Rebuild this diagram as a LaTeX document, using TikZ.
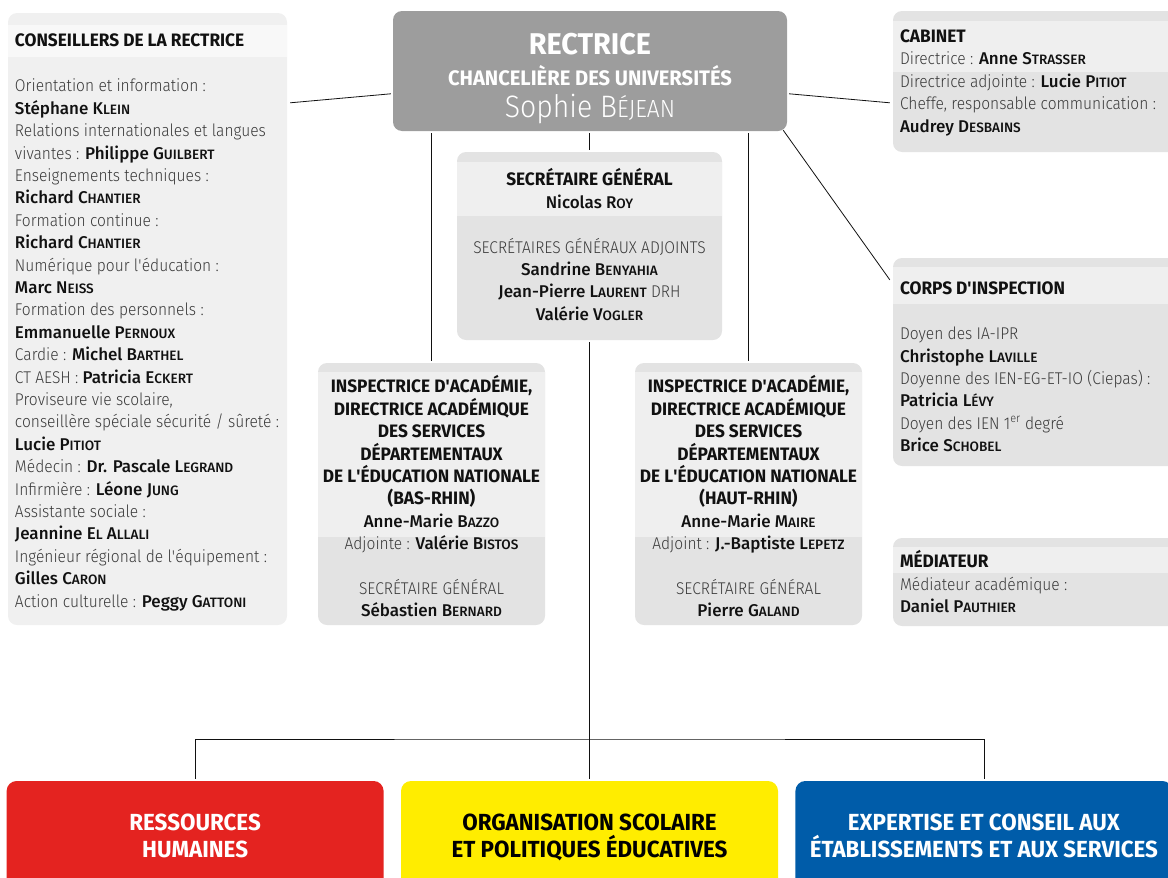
\documentclass[tikz,border=0pt]{standalone}
\usepackage{xcolor}
\usepackage{tikz}
\usepackage{fontspec}
\usetikzlibrary{positioning}
\setmainfont{Fira Sans Light}[FakeStretch=0.915]
\newfontfamily\fmed{Fira Sans Medium}
\newfontfamily\fbold{Fira Sans Bold}[FakeStretch=0.96]
\definecolor{fondclair}{HTML}{F0F0F0}
\definecolor{bandeclair}{HTML}{F8F8F8}
\definecolor{fondgris}{HTML}{E3E3E3}
\definecolor{bandegris}{HTML}{EFEFEF}
\definecolor{gristete}{HTML}{9D9D9D}
\definecolor{gristexte}{HTML}{3A3A3A}
\definecolor{noir}{HTML}{111111}
\definecolor{rouge}{HTML}{E42320}
\definecolor{jaune}{HTML}{FFED00}
\definecolor{bleu}{HTML}{005CA9}
\makeatletter
\newcommand\pc[1]{{\fontsize{\fpeval{0.8*\f@size}}{\f@baselineskip}\selectfont #1}}
\makeatother
\newcommand\nm[1]{{\fmed\color{noir}#1}}
\newcommand\hd[1]{{\fbold\fontsize{18}{22.4}\selectfont\color{noir}#1}}
\newcommand\ap{\textquotesingle}

\begin{document}
\begin{tikzpicture}[
    x=1pt, y=-1pt,
    node distance=16pt and 17pt,
    panel/.style={rectangle, rounded corners=9pt, fill=fondgris, inner sep=0pt},
    pole/.style={rectangle, rounded corners=10pt, inner sep=0pt, minimum width=377pt, minimum height=119pt},
    texte/.style={align=left, inner sep=0pt, text=gristexte, font=\fontsize{17}{22.4}\selectfont},
    centre/.style={align=center, inner sep=0pt, text=gristexte, font=\fontsize{17}{22.4}\selectfont},
    titrepole/.style={align=center, inner sep=0pt, anchor=base, font=\fbold\fontsize{23.3}{27}\selectfont},
    lien/.style={draw=noir, line width=0.8pt, shorten <=2pt, shorten >=2pt}
]
\clip (0,0) rectangle (1168,878);

% Rectrice
\node[panel, fill=gristete, minimum width=394pt, minimum height=120pt] (rectrice) at (590,71) {};
\node[inner sep=0pt, anchor=base, text=white, font=\fbold\fontsize{30}{30}\selectfont] (rectrice-titre) at ([shift={(0,44)}]rectrice.north) {RECTRICE};
\node[inner sep=0pt, anchor=base, text=white, font=\fbold\fontsize{21}{21}\selectfont] (rectrice-sous) at ([shift={(0,75)}]rectrice.north) {CHANCELIÈRE DES UNIVERSITÉS};
\node[inner sep=0pt, anchor=base, text=white, font=\fontsize{31}{31}\selectfont] (rectrice-nom) at ([shift={(0,107)}]rectrice.north) {Sophie B\pc{ÉJEAN}};

% Conseillers (left side)
\node[panel, fill=fondclair, minimum width=279pt, minimum height=612pt] (conseillers) at (147.5,319) {};
\fill[bandeclair] ([shift={(0,12)}]conseillers.north west) rectangle ([shift={(0,44)}]conseillers.north east);
\node[texte, anchor=base west] (conseillers-titre) at ([shift={(7,34)}]conseillers.north west) {\hd{CONSEILLERS DE LA RECTRICE}};
\node[texte, anchor=base west] (conseillers-liste) at ([shift={(7,594.2)}]conseillers.north west) {Orientation et information :\\
    \nm{Stéphane K\pc{LEIN}}\\
    Relations internationales et langues\\
    vivantes : \nm{Philippe G\pc{UILBERT}}\\
    Enseignements techniques :\\
    \nm{Richard C\pc{HANTIER}}\\
    Formation continue :\\
    \nm{Richard C\pc{HANTIER}}\\
    Numérique pour l\ap éducation :\\
    \nm{Marc N\pc{EISS}}\\
    Formation des personnels :\\
    \nm{Emmanuelle P\pc{ERNOUX}}\\
    Cardie : \nm{Michel B\pc{ARTHEL}}\\
    CT AESH : \nm{Patricia E\pc{CKERT}}\\
    Proviseure vie scolaire,\\
    conseillère spéciale sécurité / sûreté :\\
    \nm{Lucie P\pc{ITIOT}}\\
    Médecin : \nm{Dr. Pascale L\pc{EGRAND}}\\
    Infirmière : \nm{Léone J\pc{UNG}}\\
    Assistante sociale :\\
    \nm{Jeannine E\pc{L} A\pc{LLALI}}\\
    Ingénieur régional de l\ap équipement :\\
    \nm{Gilles C\pc{ARON}}\\
    Action culturelle : \nm{Peggy G\pc{ATTONI}}};

% Secretariat general (center)
\node[panel, minimum width=265pt, minimum height=188pt] (sg) at (589.5,246) {};
\fill[bandegris] ([shift={(0,10)}]sg.north west) rectangle ([shift={(0,64)}]sg.north east);
\node[centre, anchor=base] (sg-texte) at ([shift={(0,168.5)}]sg.north) {\hd{SECRÉTAIRE GÉNÉRAL}\\
    \nm{Nicolas R\pc{OY}}\\[22.4pt]
    SECRÉTAIRES GÉNÉRAUX ADJOINTS\\
    \nm{Sandrine B\pc{ENYAHIA}}\\
    \nm{Jean-Pierre L\pc{AURENT}} DRH\\
    \nm{Valérie V\pc{OGLER}}};

% Inspections academiques
\node[panel, minimum width=227pt, minimum height=262pt] (ia-bas) at (431.5,494) {};
\fill[bandegris] ([shift={(0,9)}]ia-bas.north west) rectangle ([shift={(0,174)}]ia-bas.north east);
\node[centre, anchor=base] (ia-bas-texte) at ([shift={(0,254)}]ia-bas.north) {\hd{INSPECTRICE D\ap ACADÉMIE,}\\
    \hd{DIRECTRICE ACADÉMIQUE}\\
    \hd{DES SERVICES}\\
    \hd{DÉPARTEMENTAUX}\\
    \hd{DE L\ap ÉDUCATION NATIONALE}\\
    \hd{(BAS-RHIN)}\\
    \nm{Anne-Marie B\pc{AZZO}}\\
    Adjointe : \nm{Valérie B\pc{ISTOS}}\\[22.4pt]
    SECRÉTAIRE GÉNÉRAL\\
    \nm{Sébastien B\pc{ERNARD}}};

\node[panel, minimum width=227pt, minimum height=262pt] (ia-haut) at (748.5,494) {};
\fill[bandegris] ([shift={(0,9)}]ia-haut.north west) rectangle ([shift={(0,174)}]ia-haut.north east);
\node[centre, anchor=base] (ia-haut-texte) at ([shift={(0,254)}]ia-haut.north) {\hd{INSPECTRICE D\ap ACADÉMIE,}\\
    \hd{DIRECTRICE ACADÉMIQUE}\\
    \hd{DES SERVICES}\\
    \hd{DÉPARTEMENTAUX}\\
    \hd{DE L\ap ÉDUCATION NATIONALE}\\
    \hd{(HAUT-RHIN)}\\
    \nm{Anne-Marie M\pc{AIRE}}\\
    Adjoint : \nm{J.-Baptiste L\pc{EPETZ}}\\[22.4pt]
    SECRÉTAIRE GÉNÉRAL\\
    \nm{Pierre G\pc{ALAND}}};

% Right side boxes
\node[panel, minimum width=287pt, minimum height=141pt] (cabinet) at (1036.5,81.5) {};
\fill[bandegris] ([shift={(0,10)}]cabinet.north west) rectangle ([shift={(0,61)}]cabinet.north east);
\node[texte, anchor=base west] (cabinet-texte) at ([shift={(7,121.3)}]cabinet.north west) {\hd{CABINET}\\
    Directrice : \nm{Anne S\pc{TRASSER}}\\
    Directrice adjointe : \nm{Lucie P\pc{ITIOT}}\\
    Cheffe, responsable communication :\\
    \nm{Audrey D\pc{ESBAINS}}};

\node[panel, minimum width=287pt, minimum height=208pt] (inspection) at (1036.5,362) {};
\fill[bandegris] ([shift={(0,9)}]inspection.north west) rectangle ([shift={(0,46)}]inspection.north east);
\node[texte, anchor=base west] (inspection-texte) at ([shift={(7,193.8)}]inspection.north west) {\hd{CORPS D\ap INSPECTION}\\[22.4pt]
    Doyen des IA-IPR\\
    \nm{Christophe L\pc{AVILLE}}\\
    Doyenne des IEN-EG-ET-IO (Ciepas) :\\
    \nm{Patricia L\pc{ÉVY}}\\
    Doyen des IEN 1\textsuperscript{er} degré\\
    \nm{Brice S\pc{CHOBEL}}};

\node[panel, minimum width=287pt, minimum height=88pt] (mediateur) at (1036.5,582) {};
\fill[bandegris] ([shift={(0,9)}]mediateur.north west) rectangle ([shift={(0,35)}]mediateur.north east);
\node[texte, anchor=base west] (mediateur-texte) at ([shift={(7,74.8)}]mediateur.north west) {\hd{MÉDIATEUR}\\
    Médiateur académique :\\
    \nm{Daniel P\pc{AUTHIER}}};

% Poles (bottom)
\node[pole, fill=jaune] (scolaire) at (589.5,840.5) {};
\node[pole, fill=rouge, left=of scolaire] (rh) {};
\node[pole, fill=bleu, right=of scolaire] (expertise) {};
\node[titrepole, text=white] (rh-texte) at ([shift={(0,77)}]rh.north) {RESSOURCES\\HUMAINES};
\node[titrepole, text=black] (scolaire-texte) at ([shift={(0,77)}]scolaire.north) {ORGANISATION SCOLAIRE\\ET POLITIQUES ÉDUCATIVES};
\node[titrepole, text=white] (expertise-texte) at ([shift={(0,77)}]expertise.north) {EXPERTISE ET CONSEIL AUX\\ÉTABLISSEMENTS ET AUX SERVICES};

% Connections - Rectrice to side boxes
\draw[lien, shorten <=0pt, shorten >=0pt] ([shift={(3,90)}]conseillers.north east) -- ([shift={(-2,83)}]rectrice.north west);
\draw[lien, shorten <=0pt, shorten >=0pt] ([shift={(2,83)}]rectrice.north east) -- ([shift={(-3,92)}]cabinet.north west);
\draw[lien, shorten <=0pt, shorten >=0pt] ([shift={(-4,-1)}]rectrice.south east) -- ([shift={(-3,22)}]inspection.north west);

% Connections - Rectrice to SG and IA
\draw[lien] (rectrice.south -| sg.north) -- (sg.north);
\draw[lien] (rectrice.south -| ia-bas.north) -- (ia-bas.north);
\draw[lien] (rectrice.south -| ia-haut.north) -- (ia-haut.north);

% Connections - SG to poles
\coordinate (bus) at (589.5,739);
\draw[lien] (sg.south) -- (scolaire.north);
\draw[lien] (rh.north) |- (bus) -| (expertise.north);

\end{tikzpicture}
\end{document}
